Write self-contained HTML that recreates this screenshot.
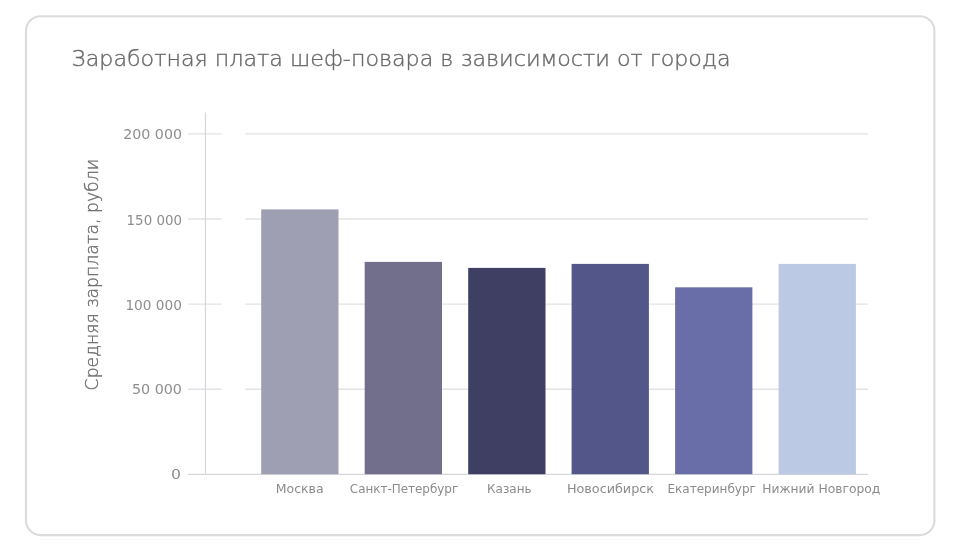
<!DOCTYPE html>
<html lang="ru">
<head>
<meta charset="utf-8">
<title>Заработная плата шеф-повара в зависимости от города</title>
<style>
  html, body { margin: 0; padding: 0; background: #ffffff; }
  body { width: 961px; height: 550px; overflow: hidden; position: relative;
         font-family: "DejaVu Sans Light", "DejaVu Sans", "Liberation Sans", sans-serif; }
  svg { position: absolute; left: 0; top: 0; }
  .title { font-family: "DejaVu Sans Light", "DejaVu Sans", "Liberation Sans", sans-serif; font-weight: 200; font-size: 22px; fill: #696969; stroke: #696969; stroke-width: 0.38px; }
  .ytick { font-family: "DejaVu Sans", "Liberation Sans", sans-serif; font-weight: 400; font-size: 14px; fill: #8e8e8e; text-anchor: end; }
  .xlab  { font-family: "DejaVu Sans", "Liberation Sans", sans-serif; font-weight: 400; font-size: 12px; fill: #8b8b8e; text-anchor: start; }
  .ytitle{ font-family: "DejaVu Sans Light", "DejaVu Sans", "Liberation Sans", sans-serif; font-weight: 200; font-size: 17px; fill: #6c6c6c; stroke: #6c6c6c; stroke-width: 0.35px; }
</style>
</head>
<body>
<svg width="961" height="550" viewBox="0 0 961 550">
  <!-- card frame -->
  <rect x="26" y="16.3" width="908.4" height="518.8" rx="14.5" ry="14.5" fill="#ffffff" stroke="#dbdbdb" stroke-width="2.1"/>
  <line x1="40" y1="539.6" x2="920" y2="539.6" stroke="#f6f6f6" stroke-width="1"/>
  <!-- grid lines -->
  <g stroke="#e3e3e7" stroke-width="1.3">
    <line x1="245.2" y1="133.9" x2="868" y2="133.9"/>
    <line x1="245.2" y1="219.0" x2="868" y2="219.0"/>
    <line x1="245.2" y1="304.1" x2="868" y2="304.1"/>
    <line x1="245.2" y1="389.25" x2="868" y2="389.25"/>
    <line x1="188" y1="133.9" x2="221.7" y2="133.9"/>
    <line x1="188" y1="219.0" x2="221.7" y2="219.0"/>
    <line x1="188" y1="304.1" x2="221.7" y2="304.1"/>
    <line x1="188" y1="389.25" x2="221.7" y2="389.25"/>
  </g>
  <!-- axes -->
  <line x1="205.5" y1="112.5" x2="205.5" y2="474.4" stroke="#d6d6da" stroke-width="1.15"/>
  <line x1="188" y1="474.4" x2="868" y2="474.4" stroke="#d6d6da" stroke-width="1.2"/>
  <!-- bars -->
  <rect x="261.2" y="209.4" width="77.3" height="264.8" fill="#9e9fb3"/>
  <rect x="364.7" y="261.9" width="77.3" height="212.3" fill="#716f8c"/>
  <rect x="468.2" y="267.9" width="77.3" height="206.3" fill="#3f3e63"/>
  <rect x="571.6" y="263.9" width="77.3" height="210.3" fill="#535688"/>
  <rect x="675.1" y="287.3" width="77.3" height="186.9" fill="#6a6ea8"/>
  <rect x="778.6" y="263.9" width="77.3" height="210.3" fill="#bbc9e5"/>
  <!-- title -->
  <text class="title" x="71.6" y="66.2" textLength="659" lengthAdjust="spacingAndGlyphs">Заработная плата шеф-повара в зависимости от города</text>
  <!-- y ticks -->
  <text class="ytick" x="182.0" y="139.4" textLength="58.8" lengthAdjust="spacingAndGlyphs">200 000</text>
  <text class="ytick" x="182.0" y="224.6" textLength="55.4" lengthAdjust="spacingAndGlyphs">150 000</text>
  <text class="ytick" x="182.0" y="309.6" textLength="56.6" lengthAdjust="spacingAndGlyphs">100 000</text>
  <text class="ytick" x="182.0" y="394.0" textLength="50.1" lengthAdjust="spacingAndGlyphs">50 000</text>
  <text class="ytick" x="181.0" y="479.0" textLength="10.0" lengthAdjust="spacingAndGlyphs">0</text>
  <!-- x labels -->
  <text class="xlab" x="275.8" y="493.0" textLength="47.8" lengthAdjust="spacingAndGlyphs">Москва</text>
  <text class="xlab" x="349.8" y="493.0" textLength="108.4" lengthAdjust="spacingAndGlyphs">Санкт-Петербург</text>
  <text class="xlab" x="487.1" y="493.0" textLength="44.5" lengthAdjust="spacingAndGlyphs">Казань</text>
  <text class="xlab" x="566.9" y="493.0" textLength="87.1" lengthAdjust="spacingAndGlyphs">Новосибирск</text>
  <text class="xlab" x="667.4" y="493.0" textLength="88.5" lengthAdjust="spacingAndGlyphs">Екатеринбург</text>
  <text class="xlab" x="762.2" y="493.0" textLength="118.2" lengthAdjust="spacingAndGlyphs">Нижний Новгород</text>
  <!-- y title -->
  <text class="ytitle" transform="translate(97.6 390.4) rotate(-90)" textLength="231.5" lengthAdjust="spacingAndGlyphs">Средняя зарплата, рубли</text>
</svg>
</body>
</html>
